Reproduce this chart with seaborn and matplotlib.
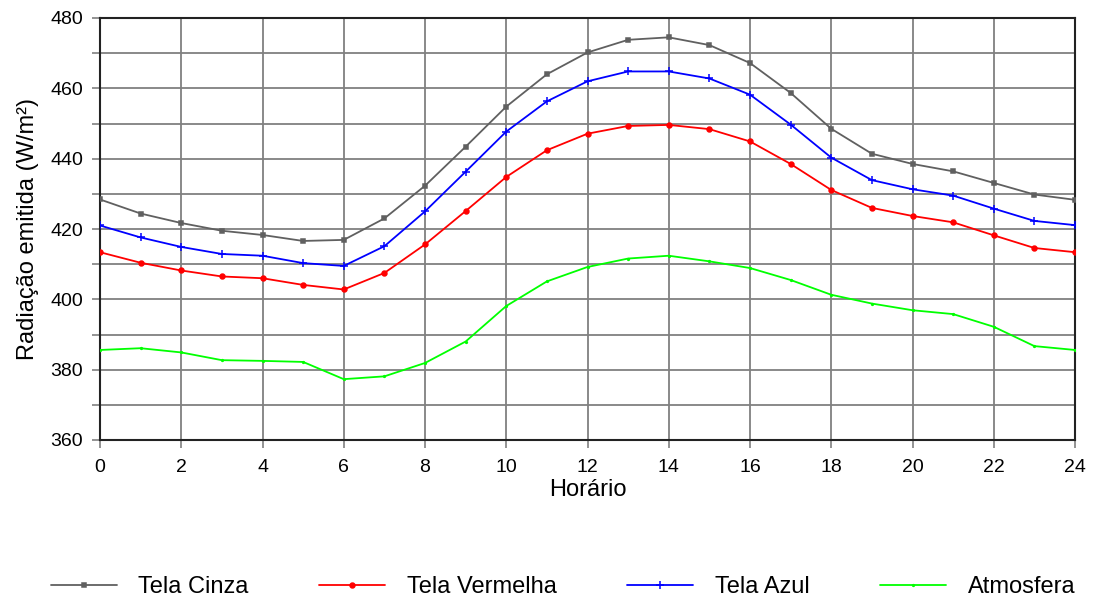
import numpy as np
import pandas as pd
import matplotlib
matplotlib.use("Agg")
import matplotlib.pyplot as plt
import seaborn as sns
from matplotlib.ticker import MultipleLocator

hours = list(range(0, 25))
tela_cinza = [428.4, 424.4, 421.7, 419.5, 418.3, 416.6, 416.9, 423.0, 432.3, 443.4, 454.8, 464.0, 470.2,
              473.8, 474.5, 472.3, 467.2, 458.7, 448.5, 441.4, 438.5, 436.4, 433.1, 429.8, 428.3]
tela_vermelha = [413.4, 410.4, 408.2, 406.5, 406.0, 404.1, 402.8, 407.5, 415.6, 425.1, 434.8, 442.4, 447.1,
                 449.3, 449.6, 448.4, 444.9, 438.5, 431.1, 426.0, 423.7, 421.9, 418.2, 414.6, 413.4]
tela_azul = [421.0, 417.6, 414.9, 412.9, 412.4, 410.3, 409.5, 415.1, 425.0, 436.3, 447.7, 456.3, 462.0,
             464.8, 464.8, 462.8, 458.2, 449.7, 440.3, 433.9, 431.3, 429.5, 425.8, 422.3, 421.1]
atmosfera = [385.6, 386.1, 384.9, 382.7, 382.5, 382.2, 377.3, 378.1, 381.9, 388.0, 398.1, 405.1, 409.2,
             411.6, 412.4, 410.8, 408.9, 405.5, 401.3, 398.8, 396.9, 395.8, 392.2, 386.7, 385.6]
series_names = ["Tela Cinza", "Tela Vermelha", "Tela Azul", "Atmosfera"]

df = pd.concat([
    pd.DataFrame({"Horário": hours, "valor": vals, "serie": name})
    for name, vals in zip(series_names, [tela_cinza, tela_vermelha, tela_azul, atmosfera])
], ignore_index=True)

sns.set_theme(style="white")
plt.rcParams["font.family"] = ["Liberation Sans", "DejaVu Sans"]
plt.rcParams["text.color"] = "black"
plt.rcParams["axes.labelcolor"] = "black"
plt.rcParams["xtick.color"] = "black"
plt.rcParams["ytick.color"] = "black"

fig = plt.figure(figsize=(10.93, 6.10), dpi=100)
ax = fig.add_axes([100/1093, 1 - 440/610, 975/1093, 422/610])

palette = {"Tela Cinza": "#606060", "Tela Vermelha": "#ff0000", "Tela Azul": "#0000ff", "Atmosfera": "#00ff00"}
markers = {"Tela Cinza": "s", "Tela Vermelha": "o", "Tela Azul": "+", "Atmosfera": "."}
sizes_m = {"Tela Cinza": 3.5, "Tela Vermelha": 3.5, "Tela Azul": 5.5, "Atmosfera": 2.5}

for name in series_names:
    sub = df[df["serie"] == name]
    sns.lineplot(data=sub, x="Horário", y="valor", ax=ax, color=palette[name],
                 marker=markers[name], markersize=sizes_m[name], markeredgewidth=1.1,
                 markeredgecolor=palette[name], linewidth=1.3, label=name, legend=False, zorder=3)

ax.set_xlim(0, 24)
ax.set_ylim(360, 480)
ax.xaxis.set_major_locator(MultipleLocator(2))
ax.yaxis.set_major_locator(MultipleLocator(20))
ax.yaxis.set_minor_locator(MultipleLocator(10))
ax.grid(True, which="major", color="#808080", linewidth=1.3)
ax.grid(True, which="minor", axis="y", color="#808080", linewidth=1.3)
ax.tick_params(axis="both", which="both", direction="out", length=6, width=1.2, color="#808080",
               labelsize=14, labelcolor="black", bottom=True, left=True)
ax.tick_params(axis="x", pad=8)
ax.tick_params(axis="y", pad=6)
ax.tick_params(axis="y", which="minor", length=6)
for s in ax.spines.values():
    s.set_color("#222222")
    s.set_linewidth(1.5)

ax.set_xlabel("Horário", fontsize=17, labelpad=2, color="black")
ax.set_ylabel("Radiação emitida (W/m²)", fontsize=17, labelpad=8, color="black")

handles, labels = ax.get_legend_handles_labels()
leg = fig.legend(handles, labels, loc="lower center", ncol=4, frameon=False, fontsize=17,
                 bbox_to_anchor=(0.515, -0.015), handlelength=2.8, columnspacing=3.0, handletextpad=0.9)
for t in leg.get_texts():
    t.set_color("black")

fig.savefig("out.png", dpi=100)
